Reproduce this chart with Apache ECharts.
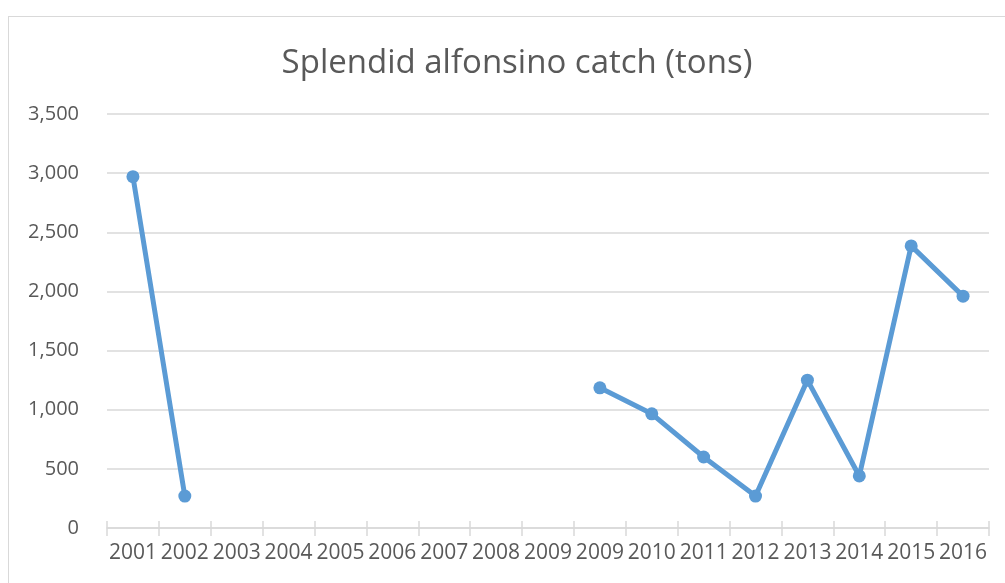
<!DOCTYPE html>
<html>
<head>
<meta charset="utf-8">
<script src="https://cdn.jsdelivr.net/npm/echarts@6/dist/echarts.min.js"></script>
<style>
  html, body { margin: 0; padding: 0; background: #ffffff; }
  #frame { position: absolute; left: 8px; top: 16px; width: 1010px; height: 600px;
           border: 1px solid #d9d9d9; box-sizing: border-box; }
  #chart { position: absolute; left: 0; top: 0; width: 1005px; height: 583px; }
</style>
</head>
<body>
<div id="frame"></div>
<div id="chart"></div>
<script>
// Year labels (2009 appears twice in the source table)
const years = ['2001', '2002', '2003', '2004', '2005', '2006', '2007', '2008', '2009',
               '2009', '2010', '2011', '2012', '2013', '2014', '2015', '2016'];
// Catch in tons; null where no catch was reported
const catchTons = [2970, 270, null, null, null, null, null, null, null,
                   1185, 965, 600, 270, 1250, 440, 2385, 1960];
const yTicks = { min: 0, max: 3500, step: 500 };
const titleText = 'Splendid alfonsino catch (tons)';

const textColor = '#595959';
const gridColor = '#d9d9d9';
const font = 'Open Sans';

const chart = echarts.init(document.getElementById('chart'), null, { renderer: 'canvas' });
chart.setOption({
  animation: false,
  title: {
    text: titleText,
    left: 512,
    textAlign: 'center',
    top: 42,
    textStyle: { fontFamily: font, fontSize: 33, fontWeight: 'normal', color: textColor }
  },
  grid: { left: 107, right: 16, top: 114, bottom: 55, containLabel: false },
  xAxis: [{
    type: 'category',
    data: years,
    boundaryGap: true,
    axisLine: { lineStyle: { color: gridColor, width: 1.5 } },
    axisTick: { show: true, length: 8, interval: 0, lineStyle: { color: gridColor, width: 1.5 } },
    axisLabel: { interval: 0, margin: 15, color: textColor, fontFamily: font, fontSize: 21 },
    splitLine: { show: false }
  }, {
    // second copy of the axis carries the upward half of the tick marks
    type: 'category',
    data: years,
    position: 'bottom',
    boundaryGap: true,
    axisLine: { show: false },
    axisTick: { show: true, inside: true, length: 7, interval: 0, lineStyle: { color: gridColor, width: 1.5 } },
    axisLabel: { show: false },
    splitLine: { show: false }
  }],
  yAxis: {
    type: 'value',
    min: yTicks.min,
    max: yTicks.max,
    interval: yTicks.step,
    axisLine: { show: false },
    axisTick: { show: false },
    axisLabel: {
      margin: 28, color: textColor, fontFamily: font, fontSize: 20,
      formatter: v => v.toLocaleString('en-US')
    },
    splitLine: { lineStyle: { color: gridColor, width: 1.5 } }
  },
  series: [{
    type: 'line',
    data: catchTons,
    connectNulls: false,
    symbol: 'circle',
    symbolSize: 13,
    lineStyle: { color: '#5b9bd5', width: 5, cap: 'round', join: 'round' },
    itemStyle: { color: '#5b9bd5' }
  }]
});
</script>
</body>
</html>
